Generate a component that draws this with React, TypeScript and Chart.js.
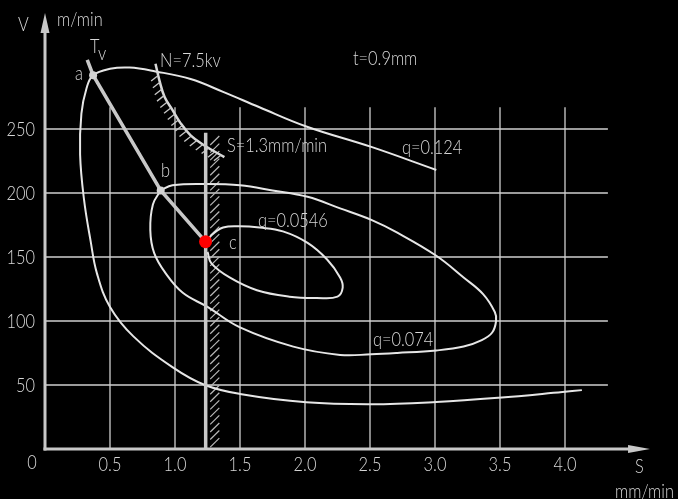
import React, { useEffect, useRef } from "react";
import { Chart, registerables } from "chart.js";

Chart.register(...registerables);

// ---- scale extents ----
const X_MIN = 0;
const X_MAX = 4.7;
const Y_MIN = 0;
const Y_MAX = 340;

// ---- ticks ----
const xTickValues = [0.5, 1.0, 1.5, 2.0, 2.5, 3.0, 3.5, 4.0];
const xTickLabels = ["0.5", "1.0", "1.5", "2.0", "2.5", "3.0", "3.5", "4.0"];
const yTickValues = [50, 100, 150, 200, 250];
const yTickLabels = ["50", "100", "150", "200", "250"];
const gridXEnd = 4.33;
const gridYEnd = 267;

// ---- curves ----
const q0124 = [
  { x: 4.13, y: 46 },
  { x: 3.98, y: 44.5 },
  { x: 3.49, y: 40 },
  { x: 3.01, y: 36.7 },
  { x: 2.51, y: 35 },
  { x: 2.01, y: 36.5 },
  { x: 1.5, y: 43 },
  { x: 1.23, y: 50 },
  { x: 0.98, y: 64 },
  { x: 0.68, y: 88 },
  { x: 0.5, y: 111 },
  { x: 0.4, y: 137 },
  { x: 0.35, y: 163 },
  { x: 0.3, y: 195 },
  { x: 0.27, y: 230 },
  { x: 0.28, y: 262 },
  { x: 0.32, y: 282 },
  { x: 0.37, y: 292 },
  { x: 0.5, y: 297 },
  { x: 0.65, y: 298 },
  { x: 0.85, y: 295 },
  { x: 1.12, y: 289 },
  { x: 1.37, y: 279 },
  { x: 1.65, y: 267 },
  { x: 2.01, y: 252 },
  { x: 2.51, y: 236 },
  { x: 3.01, y: 218 },
];

const q0074 = [
  { x: 0.89, y: 202 },
  { x: 0.98, y: 206 },
  { x: 1.25, y: 207 },
  { x: 1.5, y: 206 },
  { x: 1.75, y: 202 },
  { x: 2.02, y: 197 },
  { x: 2.27, y: 188 },
  { x: 2.51, y: 179 },
  { x: 2.71, y: 169 },
  { x: 3.01, y: 151 },
  { x: 3.22, y: 134 },
  { x: 3.37, y: 121 },
  { x: 3.46, y: 107 },
  { x: 3.47, y: 100 },
  { x: 3.44, y: 91 },
  { x: 3.36, y: 85 },
  { x: 3.22, y: 80 },
  { x: 3.01, y: 77 },
  { x: 2.71, y: 75 },
  { x: 2.51, y: 74 },
  { x: 2.27, y: 73.5 },
  { x: 1.91, y: 80 },
  { x: 1.5, y: 95 },
  { x: 1.25, y: 111 },
  { x: 1.06, y: 122 },
  { x: 0.93, y: 137 },
  { x: 0.84, y: 153 },
  { x: 0.81, y: 171 },
  { x: 0.83, y: 191 },
  { x: 0.89, y: 202 },
];

const q00546 = [
  { x: 1.25, y: 162 },
  { x: 1.28, y: 167 },
  { x: 1.37, y: 173 },
  { x: 1.5, y: 174 },
  { x: 1.65, y: 173 },
  { x: 1.83, y: 170 },
  { x: 2.02, y: 161 },
  { x: 2.17, y: 148 },
  { x: 2.27, y: 134 },
  { x: 2.29, y: 126 },
  { x: 2.25, y: 119 },
  { x: 2.09, y: 118 },
  { x: 1.88, y: 119 },
  { x: 1.63, y: 124 },
  { x: 1.42, y: 134 },
  { x: 1.28, y: 145 },
  { x: 1.25, y: 154 },
];

const tvLine = [
  { x: 0.325, y: 304 },
  { x: 0.37, y: 292 },
  { x: 0.89, y: 202 },
  { x: 1.235, y: 162 },
];

const nCurve = [
  { x: 0.85, y: 301 },
  { x: 0.88, y: 288 },
  { x: 0.92, y: 275 },
  { x: 0.98, y: 265 },
  { x: 1.04, y: 255 },
  { x: 1.12, y: 245 },
  { x: 1.22, y: 237.5 },
  { x: 1.38, y: 228 },
];

const sValue = 1.236;
const sLine = [
  { x: sValue, y: 0 },
  { x: sValue, y: 247 },
];

const pointsAB = [
  { x: 0.37, y: 292 },
  { x: 0.89, y: 202 },
];
const pointC = [{ x: 1.235, y: 162 }];

// ---- annotation text (data coordinates of text anchor / baseline) ----
const annotations = [
  { text: "V", x: -0.208, y: 326.6, align: "left" },
  { text: "m/min", x: 0.092, y: 330.5, align: "left" },
  { text: "T", x: 0.346, y: 309.4, align: "left" },
  { text: "v", x: 0.408, y: 303.9, align: "left" },
  { text: "a", x: 0.231, y: 288.3, align: "left" },
  { text: "N=7.5kv", x: 0.885, y: 298.4, align: "left" },
  { text: "t=0.9mm", x: 2.369, y: 300, align: "left" },
  { text: "S=1.3mm/min", x: 1.4, y: 232, align: "left" },
  { text: "q=0.124", x: 2.746, y: 230.5, align: "left" },
  { text: "b", x: 0.892, y: 212.5, align: "left" },
  { text: "q=0.0546", x: 1.638, y: 173.4, align: "left" },
  { text: "c", x: 1.415, y: 155.9, align: "left" },
  { text: "q=0.074", x: 2.523, y: 80.5, align: "left" },
  { text: "S", x: 4.538, y: -18.75, align: "left" },
  { text: "mm/min", x: 4.385, y: -38.3, align: "left" },
  { text: "0", x: -0.1, y: -15.6, align: "center" },
];

const FONT = '300 19.5px Lato, "Liberation Sans", Arial, sans-serif';
const SQUEEZE = 0.84;
const TEXT_COLOR = "#d8d8d8";
const GRID_COLOR = "#cfcfcf";
const AXIS_COLOR = "#c8c8c8";
const CURVE_COLOR = "#e6e6e6";

function drawText(ctx: CanvasRenderingContext2D, text: string, x: number, y: number, align: string) {
  ctx.save();
  ctx.translate(x, y);
  ctx.scale(SQUEEZE, 1);
  ctx.textAlign = align as CanvasTextAlign;
  ctx.textBaseline = "alphabetic";
  ctx.fillText(text, 0, 0);
  ctx.restore();
}

const drawPlugin = {
  id: "cadDraw",
  beforeDraw(chart: any) {
    const ctx = chart.ctx as CanvasRenderingContext2D;
    ctx.save();
    ctx.fillStyle = "#000";
    ctx.fillRect(0, 0, chart.width, chart.height);
    ctx.restore();
  },
  beforeDatasetsDraw(chart: any) {
    const ctx = chart.ctx as CanvasRenderingContext2D;
    const xs = chart.scales.x;
    const ys = chart.scales.y;
    ctx.save();
    ctx.strokeStyle = GRID_COLOR;
    ctx.lineWidth = 1.3;
    for (const v of xTickValues) {
      const px = xs.getPixelForValue(v);
      ctx.beginPath();
      ctx.moveTo(px, ys.getPixelForValue(0));
      ctx.lineTo(px, ys.getPixelForValue(gridYEnd));
      ctx.stroke();
    }
    for (const v of yTickValues) {
      const py = ys.getPixelForValue(v);
      ctx.beginPath();
      ctx.moveTo(xs.getPixelForValue(0), py);
      ctx.lineTo(xs.getPixelForValue(gridXEnd), py);
      ctx.stroke();
    }
    // hatch band right of the S line
    ctx.strokeStyle = "#b8b8b8";
    ctx.lineWidth = 1.2;
    const hx0 = xs.getPixelForValue(sValue + 0.035);
    const hx1 = xs.getPixelForValue(sValue + 0.105);
    for (let v = 1.5; v < 240; v += 5.9) {
      const py = ys.getPixelForValue(v);
      ctx.beginPath();
      ctx.moveTo(hx0, py);
      ctx.lineTo(hx1, py - 9);
      ctx.stroke();
    }
    ctx.restore();
  },
  afterDatasetsDraw(chart: any) {
    const ctx = chart.ctx as CanvasRenderingContext2D;
    const xs = chart.scales.x;
    const ys = chart.scales.y;
    ctx.save();

    // hatch ticks on N curve
    const meta = chart.getDatasetMeta(4);
    const pts = meta.data as any[];
    const samples: { x: number; y: number }[] = [];
    for (let i = 0; i < pts.length - 1; i++) {
      const p0 = pts[i];
      const p1 = pts[i + 1];
      const c1x = p0.cp2x ?? p0.x, c1y = p0.cp2y ?? p0.y;
      const c2x = p1.cp1x ?? p1.x, c2y = p1.cp1y ?? p1.y;
      for (let k = 0; k < 40; k++) {
        const t = k / 40;
        const mt = 1 - t;
        samples.push({
          x: mt * mt * mt * p0.x + 3 * mt * mt * t * c1x + 3 * mt * t * t * c2x + t * t * t * p1.x,
          y: mt * mt * mt * p0.y + 3 * mt * mt * t * c1y + 3 * mt * t * t * c2y + t * t * t * p1.y,
        });
      }
    }
    if (pts.length) samples.push({ x: pts[pts.length - 1].x, y: pts[pts.length - 1].y });
    ctx.strokeStyle = "#c8c8c8";
    ctx.lineWidth = 1.3;
    let acc = 0;
    let next = 12;
    for (let i = 1; i < samples.length; i++) {
      const dx = samples[i].x - samples[i - 1].x;
      const dy = samples[i].y - samples[i - 1].y;
      acc += Math.hypot(dx, dy);
      if (acc >= next) {
        next += 7;
        const s = samples[i];
        ctx.beginPath();
        ctx.moveTo(s.x, s.y);
        ctx.lineTo(s.x - 7, s.y + 5.5);
        ctx.stroke();
      }
    }

    // axes
    const ox = xs.getPixelForValue(0);
    const oy = ys.getPixelForValue(0);
    ctx.strokeStyle = AXIS_COLOR;
    ctx.fillStyle = AXIS_COLOR;
    ctx.lineWidth = 3;
    const xTip = xs.getPixelForValue(4.654);
    const xBase = xs.getPixelForValue(4.485);
    const yTip = ys.getPixelForValue(340.6);
    const yBase = ys.getPixelForValue(325);
    ctx.beginPath();
    ctx.moveTo(ox - 1.5, oy);
    ctx.lineTo(xBase + 2, oy);
    ctx.stroke();
    ctx.beginPath();
    ctx.moveTo(ox, oy + 1.5);
    ctx.lineTo(ox, yBase - 2);
    ctx.stroke();
    ctx.beginPath();
    ctx.moveTo(xTip, oy);
    ctx.lineTo(xBase, oy - 4);
    ctx.lineTo(xBase, oy + 4);
    ctx.closePath();
    ctx.fill();
    ctx.beginPath();
    ctx.moveTo(ox, yTip);
    ctx.lineTo(ox - 4.5, yBase);
    ctx.lineTo(ox + 4.5, yBase);
    ctx.closePath();
    ctx.fill();

    // text
    ctx.font = FONT;
    ctx.fillStyle = TEXT_COLOR;
    xTickValues.forEach((v, i) => {
      drawText(ctx, xTickLabels[i], xs.getPixelForValue(v), ys.getPixelForValue(-17.2), "center");
    });
    yTickValues.forEach((v, i) => {
      drawText(ctx, yTickLabels[i], xs.getPixelForValue(-0.077), ys.getPixelForValue(v) + 7, "right");
    });
    for (const a of annotations) {
      drawText(ctx, a.text, xs.getPixelForValue(a.x), ys.getPixelForValue(a.y), a.align);
    }
    ctx.restore();
  },
};

export default function App() {
  const ref = useRef<HTMLCanvasElement | null>(null);
  useEffect(() => {
    document.body.style.margin = "0";
    document.body.style.background = "#000";
    const canvas = ref.current;
    if (!canvas) return;
    const curve = (data: any[], extra: any = {}) => ({
      data,
      showLine: true,
      borderColor: CURVE_COLOR,
      borderWidth: 2,
      pointRadius: 0,
      fill: false,
      tension: 0.4,
      ...extra,
    });
    const chart = new Chart(canvas, {
      type: "scatter",
      data: {
        datasets: [
          {
            data: pointC,
            showLine: false,
            pointRadius: 6.5,
            pointBackgroundColor: "#ff0000",
            pointBorderColor: "#ff0000",
            pointBorderWidth: 0,
          } as any,
          {
            data: pointsAB,
            showLine: false,
            pointRadius: 4,
            pointBackgroundColor: "#d4d4d4",
            pointBorderColor: "#d4d4d4",
            pointBorderWidth: 0,
          } as any,
          curve(tvLine, { borderColor: "#c8c8c8", borderWidth: 3.5, tension: 0 }),
          curve(sLine, { borderColor: "#c8c8c8", borderWidth: 3.5, tension: 0 }),
          curve(nCurve, { borderColor: "#d8d8d8", borderWidth: 2.5, tension: 0.4 }),
          curve(q00546),
          curve(q0074),
          curve(q0124),
        ],
      },
      options: {
        animation: false,
        responsive: false,
        maintainAspectRatio: false,
        events: [],
        layout: {
          padding: {
            left: 45,
            right: 678 - 45 - (X_MAX - X_MIN) * 130,
            top: 499 - 50 - (Y_MAX - Y_MIN) * 1.28,
            bottom: 50,
          },
        },
        scales: {
          x: { type: "linear", min: X_MIN, max: X_MAX, display: false },
          y: { type: "linear", min: Y_MIN, max: Y_MAX, display: false },
        },
        plugins: {
          legend: { display: false },
          tooltip: { enabled: false },
          title: { display: false },
        },
      },
      plugins: [drawPlugin as any],
    });
    return () => chart.destroy();
  }, []);
  return (
    <div style={{ width: 678, height: 499, background: "#000" }}>
      <canvas ref={ref} width={678} height={499} style={{ display: "block" }} />
    </div>
  );
}
